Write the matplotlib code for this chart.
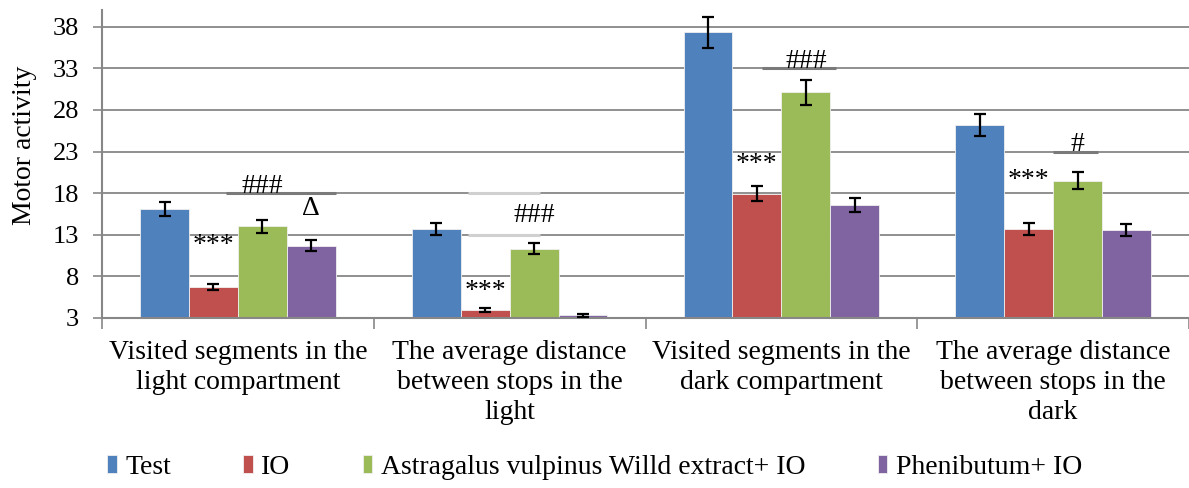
import matplotlib

matplotlib.use("Agg")
import matplotlib.pyplot as plt
import numpy as np

# Data
CATEGORIES = [
    "Visited segments in the\nlight compartment",
    "The average distance\nbetween stops in the\nlight",
    "Visited segments in the\ndark compartment",
    "The average distance\nbetween stops in the\ndark",
]
SERIES = ["Test", "IO", "Astragalus vulpinus Willd extract+ IO", "Phenibutum+ IO"]
TEST = [16.1, 13.7, 37.3, 26.2]
TEST_ERR = [0.85, 0.75, 1.9, 1.35]
IO = [6.7, 4.0, 17.9, 13.7]
IO_ERR = [0.35, 0.25, 0.9, 0.75]
ASTRAGALUS = [14.0, 11.3, 30.1, 19.5]
ASTRAGALUS_ERR = [0.75, 0.65, 1.5, 1.0]
PHENIBUTUM = [11.7, 3.32, 16.6, 13.6]
PHENIBUTUM_ERR = [0.65, 0.15, 0.85, 0.7]
Y_TICKS = [3, 8, 13, 18, 23, 28, 33, 38]

# significance marks: (category, series, text, y)
MARKS = [
    (0, 1, "***", 11.7),
    (0, 2, "###", 18.8),
    (0, 3, "\u0394", 16.1),
    (1, 1, "***", 6.2),
    (1, 2, "###", 15.3),
    (2, 1, "***", 21.4),
    (2, 2, "###", 33.8),
    (3, 1, "***", 19.5),
    (3, 2, "#", 23.8),
]
# short rules under the marks: (category, y, x0, x1, colour)
RULES = [
    (0, 18, -0.044, 0.36, "#7a7a7a"),
    (2, 33, -0.07, 0.20, "#7a7a7a"),
    (3, 23, 0.0, 0.165, "#7a7a7a"),
    (1, 13, -0.155, 0.11, "#d0d0d0"),
    (1, 18, -0.155, 0.11, "#d0d0d0"),
]

COLORS = ["#4F81BD", "#C0504D", "#9BBB59", "#8064A2"]
BAR_W = 0.18
FS = 20

plt.rcParams["font.family"] = ["Liberation Serif", "DejaVu Serif"]

fig = plt.figure(figsize=(11.89, 4.88), dpi=100)
ax = fig.add_axes([102 / 1189, 1 - 318 / 488, 1 - 102 / 1189, (318 - 10) / 488])

x = np.arange(len(CATEGORIES))
values = [TEST, IO, ASTRAGALUS, PHENIBUTUM]
errors = [TEST_ERR, IO_ERR, ASTRAGALUS_ERR, PHENIBUTUM_ERR]
for i, (vals, errs) in enumerate(zip(values, errors)):
    offset = (i - 1.5) * BAR_W
    ax.bar(
        x + offset,
        vals,
        BAR_W,
        color=COLORS[i],
        edgecolor="#f0f0f0",
        linewidth=0.6,
        label=SERIES[i],
        zorder=2,
    )
    ax.errorbar(
        x + offset,
        vals,
        yerr=errs,
        fmt="none",
        ecolor="black",
        elinewidth=1.6,
        capsize=4.5,
        capthick=1.6,
        zorder=3,
    )

for cat, y, x0, x1, col in RULES:
    ax.plot([cat + x0, cat + x1], [y, y], color=col, lw=2.2, zorder=1.5,
            solid_capstyle="butt")

for cat, ser, txt, y in MARKS:
    ax.text(cat + (ser - 1.5) * BAR_W, y, txt, ha="center", va="center",
            fontsize=FS, zorder=4)

ax.set_xlim(-0.5, -0.5 + (1189 - 102) / 274.5)
ax.set_ylim(3, 40)
ax.set_yticks(Y_TICKS)
ax.tick_params(axis="y", labelsize=19, length=6.5, width=1.2, color="#878787", pad=10)
ax.set_xticks(np.arange(-0.5, 3.6, 1.0))
ax.set_xticklabels([])
ax.set_xticks(x, minor=True)
ax.set_xticklabels(CATEGORIES, minor=True, fontsize=FS, linespacing=1.27)
ax.tick_params(axis="x", which="major", length=8, width=1.2, color="#878787")
ax.tick_params(axis="x", which="minor", length=0, pad=16)

ax.grid(axis="y", color="#878787", linewidth=1.3)
ax.set_axisbelow(True)
for side in ["top", "right"]:
    ax.spines[side].set_visible(False)
for side in ["left", "bottom"]:
    ax.spines[side].set_color("#878787")
    ax.spines[side].set_linewidth(1.5)

ax.set_ylabel("Motor activity", fontsize=FS)
ax.yaxis.set_label_coords(-0.06, 0.56)

fig.legend(
    loc="center",
    bbox_to_anchor=(0.5, 1 - 467 / 488),
    ncol=4,
    frameon=False,
    fontsize=FS,
    handlelength=0.35,
    handleheight=0.6,
    handletextpad=0.3,
    columnspacing=2.6,
)

fig.savefig("out.png", dpi=100)
